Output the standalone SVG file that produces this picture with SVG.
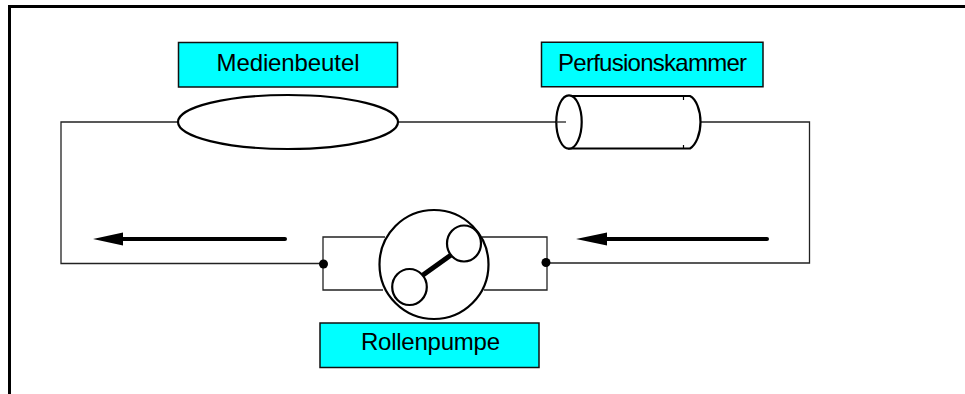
<svg xmlns="http://www.w3.org/2000/svg" width="965" height="394" viewBox="0 0 965 394">
<style>
.lab{fill:#00ffff;stroke:#111;stroke-width:1.5}
.t{font-family:"Liberation Sans",Arial,sans-serif;font-size:24px;fill:#000}
.sh{fill:#fff;stroke:#000;stroke-width:2.2}
.n{fill:none;stroke:#000;stroke-width:1.2}
.c{fill:none;stroke:#222;stroke-width:1.3}
.a{fill:none;stroke:#000;stroke-width:4;stroke-linecap:round}
</style>
<rect width="965" height="394" fill="#fff"/>
<path id="frame" d="M965 6.500H9.500V394" fill="none" stroke="#000" stroke-width="3"/>
<g id="connectors">
<path class="c" d="M178 122H61V263.500H323.500"/>
<path class="c" d="M397 122H567"/>
<path class="c" d="M700 122H809.500V263H546"/>
<path class="c" d="M385 237H323V290H383"/>
<path class="c" d="M482 237H547V290H484"/>
<path class="a" d="M285 239H118"/>
<path d="M93 239L123 232.500V245.500Z"/>
<path class="a" d="M767 239H602"/>
<path d="M576 239L607 232.500V245.500Z"/>
<circle cx="323.500" cy="264" r="4.500"/>
<circle cx="546" cy="262.500" r="4.500"/>
</g>
<g id="medienbeutel">
<rect class="lab" x="178.500" y="42.500" width="219" height="44.500"/>
<text class="t" x="288" y="71" text-anchor="middle" textLength="143" lengthAdjust="spacing">Medienbeutel</text>
<ellipse class="sh" cx="288" cy="122" rx="110" ry="27"/>
</g>
<g id="perfusionskammer">
<rect class="lab" x="541.500" y="42.250" width="221.500" height="44.500"/>
<text class="t" x="652.500" y="71" text-anchor="middle" textLength="189" lengthAdjust="spacing">Perfusionskammer</text>
<path class="sh" d="M569 96H690C696 99 700.500 110 700.500 122S696 145 690 148.500H569Z"/>
<path class="n" d="M683.500 96.500V100M683.500 148.500V145"/>
<ellipse class="sh" cx="569" cy="122" rx="12.700" ry="26.700"/>
<path class="c" d="M556 122H566"/>
</g>
<g id="rollenpumpe">
<circle class="sh" cx="434" cy="264.500" r="54.500"/>
<path d="M423 275L451 255" fill="none" stroke="#000" stroke-width="5"/>
<ellipse class="sh" cx="464" cy="243.500" rx="17" ry="18"/>
<ellipse class="sh" cx="409.500" cy="287" rx="17.300" ry="18"/>
<rect class="lab" x="320" y="323" width="219" height="44.500"/>
<text class="t" x="430.500" y="350" text-anchor="middle" textLength="139" lengthAdjust="spacing">Rollenpumpe</text>
</g>
</svg>
